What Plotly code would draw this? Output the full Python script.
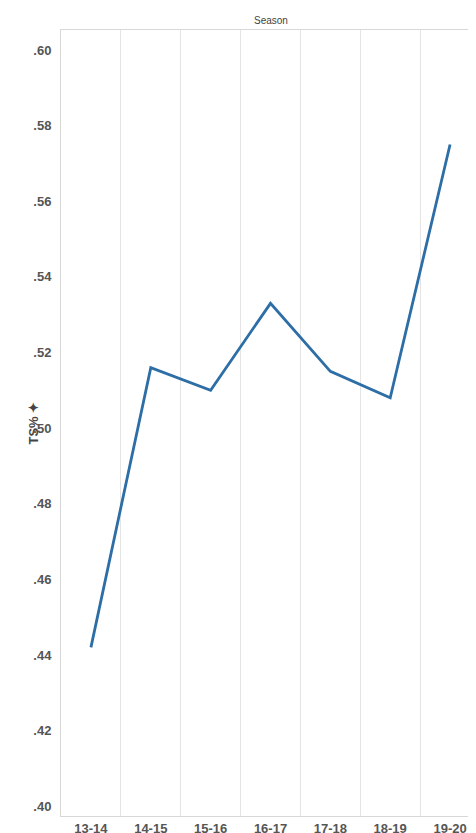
import plotly.graph_objects as go

# Season-by-season TS%
seasons = ['13-14', '14-15', '15-16', '16-17', '17-18', '18-19', '19-20']
ts_pct = [0.442, 0.516, 0.510, 0.533, 0.515, 0.508, 0.575]
y_ticks = [0.40, 0.42, 0.44, 0.46, 0.48, 0.50, 0.52, 0.54, 0.56, 0.58, 0.60]

fig = go.Figure()
fig.add_trace(go.Scatter(x=seasons, y=ts_pct, mode='lines',
                         line=dict(color='#2c6ea5', width=2.8), hoverinfo='x+y'))

fig.update_layout(
    width=476, height=833, showlegend=False,
    plot_bgcolor='white', paper_bgcolor='white',
    margin=dict(l=53, r=4, t=22, b=25, autoexpand=False),
    font=dict(family='Arial, Liberation Sans, sans-serif', color='#555'),
    annotations=[
        dict(text='Season', xref='paper', yref='paper', x=0.5, y=1,
             yanchor='bottom', showarrow=False, yshift=2,
             font=dict(size=10, color='#444')),
        dict(text='TS% ✦', xref='paper', yref='paper', x=0, y=0.5, xshift=-38,
             textangle=-90, showarrow=False,
             font=dict(size=13, color='#444', weight='bold')),
    ],
)
fig.update_xaxes(type='category', range=[-0.5, 6.5], tickson='boundaries',
                 showgrid=True, gridcolor='#e4e4e4', showline=True, linecolor='#d8d8d8',
                 mirror=True, ticks='', automargin=False,
                 tickfont=dict(size=13, color='#555', weight='bold'))
fig.update_yaxes(range=[0.3974, 0.6053], tickvals=y_ticks,
                 ticktext=['.%02d' % round(v * 100) for v in y_ticks],
                 showgrid=False, zeroline=False, showline=True, linecolor='#d8d8d8',
                 mirror=True, ticks='', ticklabelstandoff=6, automargin=False,
                 tickfont=dict(size=13, color='#555', weight='bold'))

fig.write_html("out.html")
